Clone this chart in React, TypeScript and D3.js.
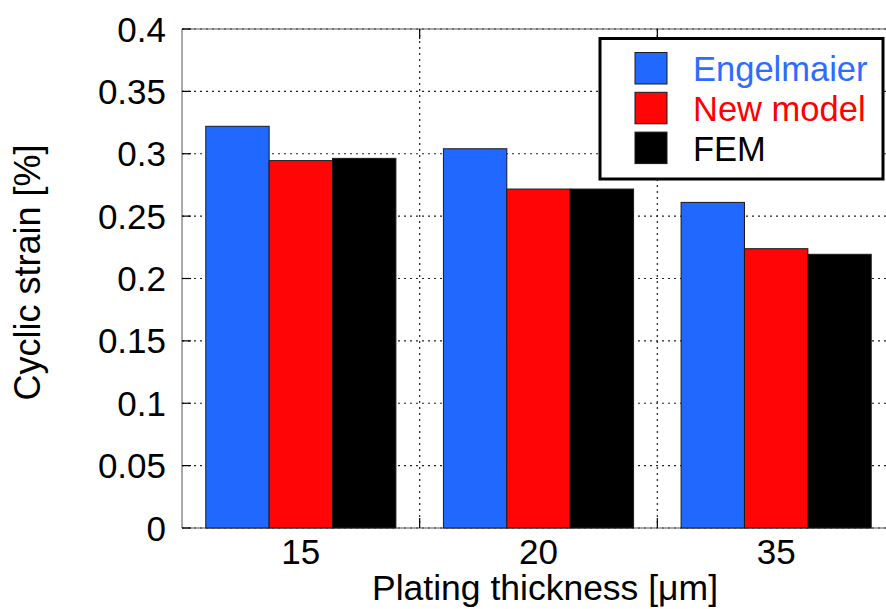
import React from "react";
import * as d3 from "d3";

// Plating thickness groups and cyclic strain [%] per model
const categories = ["15", "20", "35"];
const seriesNames = ["Engelmaier", "New model", "FEM"];
const engelmaier = [0.322, 0.304, 0.261];
const newModel = [0.2945, 0.2717, 0.2239];
const fem = [0.2963, 0.2717, 0.2194];
const yTicks = [0, 0.05, 0.1, 0.15, 0.2, 0.25, 0.3, 0.35, 0.4];
const yTickLabels = ["0", "0.05", "0.1", "0.15", "0.2", "0.25", "0.3", "0.35", "0.4"];

const seriesValues = [engelmaier, newModel, fem];
const fills = ["#2068ff", "#ff0505", "#000000"];
const textColors = ["#2d6cff", "#ff0000", "#000000"];

const W = 886;
const H = 609;
const plot = { left: 182, right: 895, top: 29, bottom: 528 };
const FONT = "Liberation Sans, Arial, sans-serif";

export default function App() {
  const x = d3.scaleLinear().domain([0.5, 3.5]).range([plot.left, plot.right]);
  const y = d3.scaleLinear().domain([0, 0.4]).range([plot.bottom, plot.top]);
  const groupW = x(1.5) - x(0.5);
  const barW = (groupW * 0.8) / 3;
  const boundaries = [1.5, 2.5];

  return (
    <svg
      width={W}
      height={H}
      style={{ position: "absolute", left: 0, top: 0, background: "#fff" }}
      fontFamily={FONT}
    >
      <rect x={0} y={0} width={W} height={H} fill="#fff" />
      {/* dotted grid */}
      <g stroke="#222" strokeWidth={1.2} strokeDasharray="2,4">
        {yTicks.map((t) => (
          <line key={"gy" + t} x1={plot.left} x2={plot.right} y1={y(t)} y2={y(t)} />
        ))}
        {boundaries.map((b) => (
          <line key={"gx" + b} x1={x(b)} x2={x(b)} y1={plot.top} y2={plot.bottom} />
        ))}
      </g>
      {/* axis frame */}
      <g stroke="#555" strokeWidth={1} fill="none">
        <line x1={plot.left} x2={plot.left} y1={plot.top} y2={plot.bottom} />
        <line x1={plot.left} x2={plot.right} y1={plot.top} y2={plot.top} />
        <line x1={plot.left} x2={plot.right} y1={plot.bottom} y2={plot.bottom} />
      </g>
      {/* ticks */}
      <g stroke="#000" strokeWidth={1.2}>
        {yTicks.map((t) => (
          <line key={"ty" + t} x1={plot.left} x2={plot.left + 9} y1={y(t)} y2={y(t)} />
        ))}
        {boundaries.map((b) => (
          <g key={"tx" + b}>
            <line x1={x(b)} x2={x(b)} y1={plot.bottom} y2={plot.bottom - 10} />
            <line x1={x(b)} x2={x(b)} y1={plot.top} y2={plot.top + 10} />
          </g>
        ))}
      </g>
      {/* bars */}
      <g>
        {categories.map((c, i) =>
          seriesValues.map((vals, s) => {
            const x0 = x(i + 1) - 1.5 * barW + s * barW;
            return (
              <rect
                key={c + "-" + s}
                x={x0}
                y={y(vals[i])}
                width={barW}
                height={y(0) - y(vals[i])}
                fill={fills[s]}
                stroke="#1a1a1a"
                strokeWidth={1}
              />
            );
          })
        )}
      </g>
      {/* y tick labels */}
      <g fontSize={35} fill="#000" textAnchor="end">
        {yTicks.map((t, i) => (
          <text key={"ly" + t} x={166} y={y(t)} dy="0.36em">
            {yTickLabels[i]}
          </text>
        ))}
      </g>
      {/* x tick labels */}
      <g fontSize={35} fill="#000" textAnchor="middle">
        {categories.map((c, i) => (
          <text key={"lx" + c} x={x(i + 1)} y={564}>
            {c}
          </text>
        ))}
      </g>
      {/* axis titles */}
      <text x={545} y={600} fontSize={35.5} textAnchor="middle" fill="#000">
        Plating thickness [μm]
      </text>
      <text
        transform={`translate(40, ${(plot.top + plot.bottom) / 2 - 6}) rotate(-90)`}
        fontSize={36}
        textAnchor="middle"
        fill="#000"
      >
        Cyclic strain [%]
      </text>
      {/* legend */}
      <g>
        <rect x={600} y={38.5} width={283} height={140.5} fill="#fff" stroke="#000" strokeWidth={3} />
        {seriesNames.map((n, s) => (
          <g key={n}>
            <rect
              x={635}
              y={52.5 + s * 39.8}
              width={32}
              height={31.5}
              fill={fills[s]}
              stroke="#1a1a1a"
              strokeWidth={1}
            />
            <text x={693} y={69 + s * 39.8} dy="0.36em" fontSize={34.5} fill={textColors[s]}>
              {n}
            </text>
          </g>
        ))}
      </g>
    </svg>
  );
}
